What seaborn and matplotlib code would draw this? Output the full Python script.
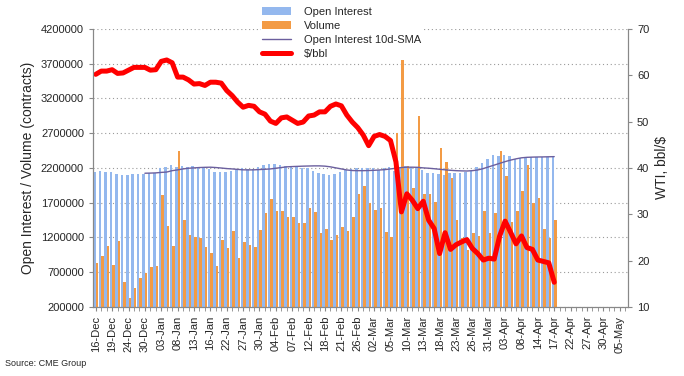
import pandas as pd
import numpy as np
import matplotlib
matplotlib.use('Agg')
import matplotlib.pyplot as plt
from matplotlib.patches import Patch
from matplotlib.lines import Line2D
from matplotlib.ticker import FuncFormatter
import seaborn as sns

# trading days on the category axis (CME holidays removed)
holidays = ['2019-12-25', '2020-01-01', '2020-01-20', '2020-02-17', '2020-04-10']
days = pd.bdate_range('2019-12-16', '2020-05-06').drop(pd.to_datetime(holidays))
day_labels = [d.strftime('%d-%b') for d in days]

# values (16-Dec .. 17-Apr)
open_interest = [2147000, 2161000, 2142000, 2138000, 2109000, 2095000, 2095000, 2114000, 2114000, 2114000,
                 2123000, 2133000, 2196000, 2219000, 2238000, 2219000, 2228000, 2219000, 2233000, 2219000,
                 2195000, 2181000, 2147000, 2138000, 2138000, 2161000, 2181000, 2195000, 2181000, 2186000,
                 2210000, 2243000, 2258000, 2258000, 2243000, 2233000, 2219000, 2219000, 2195000, 2195000,
                 2161000, 2133000, 2114000, 2099000, 2114000, 2147000, 2171000, 2186000, 2195000, 2195000,
                 2195000, 2195000, 2171000, 2195000, 2219000, 2161000, 2200000, 2228000, 2219000, 2195000,
                 2171000, 2133000, 2123000, 2114000, 2099000, 2123000, 2133000, 2133000, 2147000, 2161000,
                 2219000, 2277000, 2325000, 2387000, 2373000, 2387000, 2373000, 2325000, 2340000, 2340000,
                 2354000, 2354000, 2363000, 2363000, 2368000]

volume = [837000, 934000, 1078000, 804000, 1154000, 560000, 334000, 464000, 608000, 685000,
          766000, 790000, 1816000, 1365000, 1078000, 2445000, 1452000, 1236000, 1212000, 1188000,
          1068000, 972000, 790000, 1164000, 1044000, 1298000, 900000, 1140000, 1092000, 1068000,
          1308000, 1548000, 1749000, 1586000, 1586000, 1499000, 1499000, 1404000, 1404000, 1620000,
          1571000, 1269000, 1322000, 1164000, 1236000, 1347000, 1298000, 1499000, 1826000, 1941000,
          1701000, 1595000, 1620000, 1283000, 1203000, 2699000, 3754000, 2229000, 1908000, 2948000,
          1826000, 1826000, 1715000, 2492000, 2286000, 2052000, 1452000, 1188000, 1020000, 1269000,
          1222000, 1586000, 1260000, 1557000, 2445000, 2085000, 1428000, 1586000, 1874000, 2243000,
          1701000, 1773000, 1327000, 1188000, 1452000]

oi_sma = [None] * 9 + [
    2123000, 2125000, 2128000, 2135000, 2140000, 2160000, 2171000, 2185000, 2195000, 2200000,
    2205000, 2208000, 2210000, 2205000, 2198000, 2190000, 2185000, 2178000, 2172000, 2171000,
    2172000, 2176000, 2180000, 2185000, 2195000, 2205000, 2215000, 2219000, 2222000, 2225000,
    2227000, 2229000, 2229000, 2225000, 2215000, 2200000, 2185000, 2170000, 2162000, 2160000,
    2160000, 2162000, 2165000, 2170000, 2175000, 2185000, 2195000, 2205000, 2210000, 2210000,
    2208000, 2200000, 2195000, 2188000, 2180000, 2172000, 2165000, 2160000, 2157000, 2155000,
    2160000, 2170000, 2190000, 2215000, 2240000, 2265000, 2290000, 2312000, 2330000, 2345000,
    2352000, 2355000, 2357000, 2358000, 2360000, 2362000]

wti = [60.2, 60.9, 60.9, 61.2, 60.4, 60.5, 61.1, 61.7, 61.7, 61.7,
       61.1, 61.2, 63.0, 63.3, 62.7, 59.6, 59.6, 59.0, 58.1, 58.2,
       57.8, 58.5, 58.5, 58.3, 56.7, 55.6, 54.2, 53.1, 53.5, 53.3,
       52.1, 51.6, 50.1, 49.6, 50.8, 51.0, 50.3, 49.6, 49.9, 51.2,
       51.4, 52.1, 52.1, 53.3, 53.8, 53.4, 51.4, 49.9, 48.7, 47.1,
       44.8, 46.8, 47.2, 46.8, 45.9, 41.3, 30.5, 34.4, 33.0, 31.2,
       32.8, 28.7, 26.9, 21.5, 26.0, 22.4, 23.4, 24.0, 24.5, 22.6,
       21.5, 20.1, 20.5, 20.3, 25.3, 28.5, 26.1, 23.6, 25.3, 22.8,
       22.4, 20.1, 19.8, 19.5, 15.3]

n = len(wti)
blue, orange, red, purple = '#94b8ee', '#f39b45', '#ff0000', '#6b5f9e'

bars = pd.DataFrame({
    'day': day_labels[:n] * 2,
    'value': open_interest + volume,
    'series': ['Open Interest'] * n + ['Volume'] * n,
})

sns.set_style('white')
plt.rcParams['font.family'] = ['Liberation Sans', 'DejaVu Sans']

fig, ax = plt.subplots(figsize=(6.84, 3.76), dpi=100)
fig.subplots_adjust(left=0.136, right=0.918, top=0.923, bottom=0.184)

sns.barplot(data=bars, x='day', y='value', hue='series', order=day_labels,
            hue_order=['Open Interest', 'Volume'], palette=[blue, orange],
            width=0.92, saturation=1, linewidth=0, legend=False, ax=ax)
sns.lineplot(x=np.arange(n), y=np.array(oi_sma, dtype=float), color=purple, lw=1, ax=ax)

ax.set_ylim(200000, 4200000)
ax.set_yticks(np.arange(200000, 4200001, 500000))
ax.yaxis.set_major_formatter(FuncFormatter(lambda v, p: f'{int(v)}'))
ax.set_xlim(-0.5, len(day_labels) - 0.5)
ax.set_xticks(range(0, len(day_labels), 3))
ax.set_xticklabels(day_labels[::3], rotation=90, fontsize=8)
ax.set_xticks(range(len(day_labels)), minor=True)
ax.tick_params(axis='x', which='both', direction='out', length=3, color='#888888', bottom=True)
ax.tick_params(axis='y', direction='out', length=3, color='#888888', left=True, labelsize=8)
ax.set_axisbelow(True)
ax.yaxis.grid(True, linestyle=(0, (1, 2.5)), color='#9a9a9a', lw=0.8)
ax.set_xlabel('')
ax.set_ylabel('Open Interest / Volume (contracts)', fontsize=10)

ax2 = ax.twinx()
sns.lineplot(x=np.arange(n), y=wti, color=red, lw=3.6, ax=ax2)
ax2.lines[0].set_solid_joinstyle('round')
ax2.lines[0].set_solid_capstyle('round')
ax2.set_ylim(10, 70)
ax2.set_yticks(range(10, 71, 10))
ax2.tick_params(axis='y', direction='out', length=3, color='#888888', right=True, labelsize=8)
ax2.set_ylabel('WTI, bbl/$', fontsize=10)
ax2.grid(False)

for a in (ax, ax2):
    a.spines['top'].set_visible(False)
    for s in ('left', 'right', 'bottom'):
        a.spines[s].set_color('#888888')
        a.spines[s].set_linewidth(0.8)

handles = [Patch(facecolor=blue, edgecolor='none'),
           Patch(facecolor=orange, edgecolor='none'),
           Line2D([], [], color=purple, lw=1),
           Line2D([], [], color=red, lw=3.6, solid_capstyle='round')]
names = ['Open Interest', 'Volume', 'Open Interest 10d-SMA', '$/bbl']
fig.legend(handles, names, loc='upper left', bbox_to_anchor=(255 / 684, 1.0),
           fontsize=8, frameon=True, facecolor='white', edgecolor='none', framealpha=1,
           handlelength=2.6, handleheight=0.8, handletextpad=1.2, labelspacing=0.35, borderpad=0.1)

fig.text(5 / 684, 1 - 366 / 376, 'Source: CME Group', fontsize=6.5)

fig.savefig('out.png', dpi=100)
